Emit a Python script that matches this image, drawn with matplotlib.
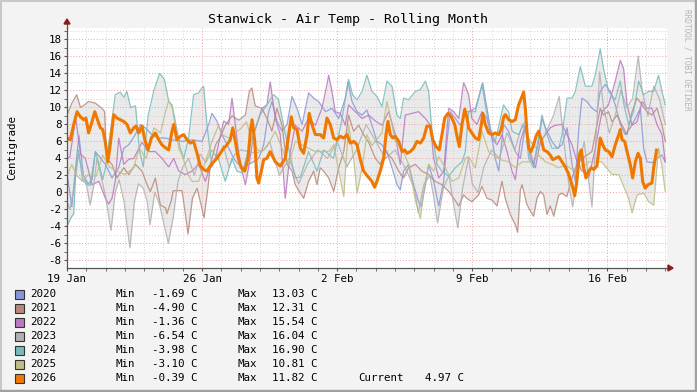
import numpy as np
import matplotlib
matplotlib.use("Agg")
import matplotlib.pyplot as plt
from matplotlib.patches import Rectangle, Polygon
import matplotlib.dates as mdates
import datetime as dt

# ---------------- data (days since 19 Jan 00:00, temperature in C) ----------------
years = ["2020", "2021", "2022", "2023", "2024", "2025", "2026"]
colors = ["#8796DB", "#B8887A", "#BB77C0", "#B0B0B0", "#77BBBB", "#BDBD85", "#F07800"]
mins = ["-1.69", "-4.90", "-1.36", "-6.54", "-3.98", "-3.10", "-0.39"]
maxs = ["13.03", "12.31", "15.54", "16.04", "16.90", "10.81", "11.82"]
current_2026 = "4.97"

t2020 = [0.00, 0.25, 0.45, 0.62, 0.85, 1.10, 1.30, 1.47, 1.99, 2.33, 2.68, 2.94, 3.20, 3.54, 3.80, 4.06, 4.40, 4.75, 5.10,
         5.44, 5.96, 6.48, 7.00, 7.34, 7.51, 7.77, 8.03, 8.38, 8.64, 8.89, 9.15, 9.41, 9.67, 9.93, 10.19,
         10.45, 10.62, 10.88, 11.14, 11.40, 11.66, 11.92, 12.18, 12.52, 12.78, 13.04, 13.39, 13.73, 14.08, 14.42, 14.56, 14.77, 15.03, 15.29,
         15.54, 15.80, 16.06, 16.32, 16.58, 16.84, 17.10, 17.27, 17.44, 17.70, 17.96, 18.22, 18.36, 18.57, 18.74, 19.00, 19.26, 19.52, 19.69, 19.86, 20.12, 20.38, 20.64,
         20.81, 21.16, 21.42, 21.54, 21.76, 22.02, 22.19, 22.37, 22.62, 22.88, 23.23, 23.49, 23.75, 24.01, 24.18, 24.44, 24.61, 24.87, 25.13, 25.39, 25.65, 25.91,
         26.17, 26.34, 26.51, 26.68, 26.94, 27.20, 27.46, 27.63, 27.89, 28.15, 28.41, 28.67, 28.93, 29.19, 29.45, 29.71, 29.88, 30.05, 30.31, 30.57, 30.83, 31.00]
v2020 = [2.3, -1.7, 3.0, 6.7, 2.0, 1.0, 1.5, 4.8, 3.3, 1.7, 2.9, 5.2, 5.6, 6.8, 8.0, 7.6, 6.8, 6.4, 6.4,
         6.2, 6.0, 6.2, 6.0, 8.0, 9.3, 8.4, 6.8, 5.2, 4.0, 3.3, 2.9, 3.3, 3.6, 4.0, 5.6,
         9.5, 10.7, 8.4, 7.2, 8.0, 11.3, 9.9, 8.0, 11.7, 11.1, 10.7, 9.5, 9.9, 8.7, 11.1, 13.0, 10.7, 9.5, 9.1,
         9.7, 7.9, 6.0, 5.6, 4.8, 2.9, 0.9, 0.3, 2.5, 3.3, 0.9, -1.1, -1.69, 0.9, 3.3, 1.3, -1.6, 1.3, 6.0, 9.5, 8.7, 7.9, 9.5,
         9.5, 9.9, 11.9, 12.9, 9.9, 6.4, 4.0, 2.5, 8.0, 7.2, 4.8, 4.0, 7.9, 4.8, 3.3, 6.0, 8.7, 7.2, 6.0, 5.2, 5.6, 7.6,
         3.3, 1.3, 7.2, 11.1, 10.7, 9.9, 9.5, 11.9, 12.7, 11.9, 10.3, 8.0, 6.8, 7.6, 8.7, 9.9, 5.2, 3.6, 3.5, 4.0, 4.4, 3.6]

t2021 = [0.00, 0.25, 0.50, 0.70, 0.90, 1.12, 1.47, 1.81, 1.95, 2.05, 2.33, 2.59, 2.94, 3.20, 3.54, 3.89, 4.15, 4.32, 4.58, 4.84, 5.10, 5.18,
         5.40, 5.50, 5.96, 6.10, 6.27, 6.50, 6.74, 6.95, 7.10, 7.30, 7.43, 7.70, 7.95, 8.20, 8.55, 8.90, 9.24, 9.45, 9.58, 9.75,
         10.10, 10.36, 10.62, 10.88, 11.14, 11.40, 11.66, 11.83, 12.09, 12.26, 12.52, 12.78, 12.95, 13.12, 13.30, 13.56, 13.82, 14.08, 14.34, 14.59, 14.85,
         15.11, 15.37, 15.63, 15.98, 16.23, 16.49, 16.84, 17.19, 17.44, 17.70, 18.05, 18.39, 18.74, 19.08, 19.43, 19.78, 20.04, 20.30, 20.55,
         20.72, 20.98, 21.33, 21.50, 21.76, 22.02, 22.28, 22.54, 22.71, 22.97, 23.23, 23.35, 23.49, 23.58, 23.83, 24.01, 24.18, 24.35, 24.53, 24.70, 24.87,
         25.04, 25.22, 25.48, 25.65, 25.90, 26.17, 26.43, 26.68, 26.94, 27.20, 27.46, 27.63, 27.80, 28.06, 28.24, 28.50, 28.76, 29.02, 29.28, 29.54,
         29.80, 30.05, 30.31, 30.57, 30.83, 31.00]
v2021 = [9.1, 10.5, 11.5, 10.0, 10.3, 10.7, 10.5, 9.9, 9.5, 4.0, 3.3, 1.7, 2.9, 2.1, 3.3, 2.5, 0.9, 0.1, 1.7, -1.5, -1.8, -2.5,
         -1.0, 0.2, 0.2, -2.0, -4.9, -0.7, 0.5, -1.5, -3.0, 0.5, 3.3, 5.6, 6.5, 7.9, 9.0, 8.5, 9.1, 11.9, 12.3, 10.2,
         9.9, 8.7, 7.2, 9.9, 7.9, 3.3, 2.5, 0.9, -0.1, -0.7, 1.3, 2.5, 0.9, 2.9, 2.5, 1.7, 0.1, 2.9, 4.8, 9.1, 7.2,
         7.9, 6.8, 5.9, 4.0, 3.3, 4.8, 4.0, 2.5, 1.7, 2.9, 3.3, 2.5, 2.1, 1.3, 0.9, 0.1, -0.7, -1.6, -0.3,
         -0.7, -1.1, -0.3, 0.7, -0.7, -0.9, -1.6, 1.3, -0.7, -2.6, -3.8, -4.7, 0.3, 0.9, -1.4, -2.2, -2.8, -0.7, 0.1, -0.3, -2.6,
         -1.6, -2.8, -0.3, -0.1, -0.5, 1.7, 3.3, 4.0, 4.4, 4.8, 7.9, 9.9, 9.1, 9.5, 8.3, 9.1, 7.9, 6.8, 9.5, 11.1,
         10.3, 9.5, 9.1, 9.9, 7.9, 6.0]

t2022 = [0.00, 0.15, 0.45, 0.70, 0.95, 1.30, 1.65, 1.99, 2.16, 2.33, 2.50, 2.68, 2.94, 3.20, 3.46, 3.89, 4.23, 4.58, 4.92,
         5.27, 5.53, 5.79, 6.13, 6.48, 6.82, 7.17, 7.34, 7.69, 8.12, 8.38, 8.55, 8.72, 8.89, 9.07, 9.24, 9.41, 9.67, 9.84,
         10.10, 10.36, 10.53, 10.79, 11.05, 11.31, 11.57, 11.83, 12.18, 12.52, 12.87, 13.21, 13.47, 13.56, 13.73, 13.90, 14.16, 14.42, 14.59, 14.94,
         15.29, 15.63, 15.98, 16.32, 16.67, 17.01, 17.27, 17.53, 17.87, 18.22, 18.57, 18.83, 19.00, 19.26, 19.52, 19.78, 20.04, 20.30, 20.55,
         20.64, 20.81, 20.98, 21.24, 21.50, 21.76, 22.02, 22.28, 22.54, 22.80, 23.06, 23.23, 23.49, 23.75, 24.01, 24.27, 24.53, 24.79, 25.04, 25.30,
         25.65, 25.91, 26.17, 26.43, 26.68, 26.86, 27.03, 27.37, 27.72, 28.06, 28.41, 28.67, 28.84, 29.02, 29.28, 29.54, 29.80, 30.05, 30.31, 30.57,
         30.83, 31.00]
v2022 = [3.9, 4.2, 8.8, 4.5, 4.0, 0.9, 1.3, -0.7, -1.36, -0.7, 1.3, 6.4, 3.3, 3.9, 4.0, 5.9, 4.8, 4.8, 4.0,
         3.0, 4.0, 2.5, 2.1, 2.5, 3.3, 1.3, 2.5, 4.0, 8.4, 8.0, 11.1, 8.0, 4.8, 2.5, 0.9, 2.9, 6.8, 8.0,
         9.9, 10.3, 13.0, 8.7, 6.8, -0.7, 4.8, 7.9, 7.2, 8.7, 7.9, 9.9, 12.7, 13.8, 11.9, 9.5, 9.3, 7.9, 10.3, 9.5,
         8.7, 9.1, 8.4, 7.9, 9.5, 6.8, 3.3, 9.1, 9.3, 9.5, 8.7, 7.9, 4.0, 1.7, 2.5, 9.9, 9.5, 8.7, 12.9,
         12.5, 11.5, 8.7, 8.0, 9.5, 8.7, 6.4, 5.6, 6.8, 4.8, 2.5, 1.5, 6.0, 7.9, 4.0, 2.9, 6.0, 6.8, 7.6, 7.9,
         8.0, 6.8, 5.6, 3.6, 2.5, 2.5, 1.7, 5.1, 9.5, 10.3, 13.1, 15.54, 14.6, 10.3, 7.9, 8.3, 10.7, 9.9, 9.9, 8.0,
         6.8, 3.6]

t2023 = [0.00, 0.15, 0.40, 0.60, 0.85, 1.00, 1.20, 1.40, 1.55, 1.75, 2.00, 2.28, 2.50, 2.70, 2.95, 3.26, 3.50, 3.70, 3.95, 4.15, 4.30,
         4.55, 4.80, 5.05, 5.25, 5.50, 5.75, 6.00, 6.30, 6.60, 6.90, 7.20, 7.50, 7.80, 8.10, 8.40, 8.70, 9.00, 9.40, 9.80, 10.20,
         10.50, 11.00, 11.50, 12.00, 12.50, 13.00, 13.50, 14.00, 14.50, 15.00, 15.50, 16.00, 16.50, 17.00, 17.50, 18.00, 18.20, 18.50,
         18.80, 19.00, 19.20, 19.50, 19.80, 20.00, 20.25, 20.50, 20.80, 21.00, 21.30, 21.60, 22.00, 22.40, 22.80, 23.20, 23.60, 24.00,
         24.40, 24.80, 25.20, 25.50, 25.80, 26.00, 26.20, 26.50, 26.80, 27.00, 27.20, 27.40, 27.60, 27.80, 28.10, 28.40, 28.70, 29.00,
         29.30, 29.60, 29.80, 30.10, 30.40, 30.70, 31.00]
v2023 = [-1.0, -2.0, 1.0, 4.5, 2.0, 1.0, -1.5, 1.0, 4.0, 2.0, -0.5, -4.5, 0.0, 1.5, -1.0, -6.54, -1.0, 1.0, 0.5, -1.0, -3.8,
         0.0, -1.5, -4.0, -6.0, -3.0, 1.3, 3.0, 4.0, 2.0, 4.5, 3.5, 5.0, 4.0, 5.5, 3.0, 4.5, 5.0, 4.8, 4.6, 5.0,
         6.0, 2.0, 4.0, 1.0, 3.5, 5.0, 4.0, 6.0, 3.0, 5.0, 8.0, 6.0, 4.0, 5.0, 3.0, 0.5, -2.4, 1.0,
         2.0, -0.5, -3.6, 0.5, 2.0, -1.0, -4.2, 0.5, 4.0, 1.0, 0.0, 3.0, 5.0, 4.0, 7.0, 5.0, 8.0, 6.0,
         5.0, 7.0, 9.0, 11.3, 5.0, 1.0, -1.7, 3.0, 6.0, 2.0, -1.7, 6.0, 14.2, 10.0, 7.0, 9.0, 12.0, 10.0,
         11.0, 16.04, 12.0, 9.0, 12.5, 11.0, 8.0]

t2024 = [0.00, 0.20, 0.35, 0.45, 0.60, 0.80, 1.00, 1.20, 1.47, 1.70, 1.85, 2.00, 2.30, 2.50, 2.75, 2.95, 3.10, 3.30, 3.55, 3.75, 3.95,
         4.20, 4.50, 4.80, 5.05, 5.27, 5.44, 5.61, 5.87, 6.05, 6.30, 6.56, 6.82, 6.99, 7.08, 7.25, 7.51, 7.77, 8.20, 8.55, 8.80, 9.07,
         9.41, 9.67, 10.00, 10.36, 10.70, 10.95, 11.30, 11.83, 12.09, 12.52, 12.95, 13.30, 13.80, 14.20, 14.59, 14.80, 15.03, 15.29,
         15.54, 15.80, 16.06, 16.32, 16.58, 16.84, 17.10, 17.27, 17.44, 17.70, 18.05, 18.31, 18.57, 18.74, 18.91, 19.17, 19.43, 19.78,
         20.12, 20.47, 20.64, 20.81, 21.16, 21.50, 21.85, 22.19, 22.62, 22.88, 23.06, 23.40, 23.75, 23.92, 24.18, 24.61, 24.87, 25.13,
         25.48, 25.65, 25.91, 26.17, 26.34, 26.60, 26.86, 27.20, 27.37, 27.63, 27.80, 28.06, 28.41, 28.67, 28.84, 29.10, 29.36, 29.62,
         29.88, 30.14, 30.40, 30.65, 30.83, 31.00]
v2024 = [-3.98, -3.0, -2.5, 2.5, 5.0, 1.5, 1.0, 0.8, 4.8, 3.0, 1.5, 3.0, 8.0, 11.5, 11.8, 11.2, 11.9, 10.0, 10.2, 5.0, 3.0,
         9.0, 12.0, 14.0, 13.3, 10.7, 10.3, 8.4, 5.2, 4.0, 6.4, 11.5, 11.7, 12.3, 12.5, 8.0, 3.0, 4.5, 1.3, 4.0, 2.5, 2.3,
         5.0, 7.0, 9.1, 10.3, 11.5, 11.0, 7.0, 1.7, 1.8, 4.8, 2.5, 5.0, 4.0, 8.0, 13.3, 11.5, 10.9, 11.9,
         13.8, 11.9, 11.3, 10.1, 13.1, 12.5, 9.1, 8.7, 11.1, 10.9, 11.9, 12.1, 13.1, 11.9, 7.2, 3.3, 2.5, 1.9,
         2.9, 3.6, 4.8, 9.5, 9.5, 12.7, 8.0, 6.0, 10.3, 9.5, 7.2, 6.8, 8.4, 4.0, 2.9, 9.1, 6.8, 5.2,
         5.2, 6.8, 11.1, 11.1, 11.9, 14.8, 12.5, 12.5, 13.8, 16.9, 14.6, 11.9, 10.9, 13.1, 10.5, 8.0, 9.5, 13.1,
         11.5, 11.9, 11.9, 13.8, 11.9, 10.3]

t2025 = [0.00, 0.25, 0.50, 0.80, 1.10, 1.50, 1.85, 2.20, 2.60, 3.00, 3.45, 3.75, 4.10, 4.50, 4.85, 5.10, 5.27, 5.45, 5.79, 5.96,
         6.30, 6.48, 6.82, 7.17, 7.51, 7.86, 8.03, 8.38, 8.70, 9.00, 9.30, 9.60, 9.90, 10.10, 10.40, 10.79, 11.14, 11.49, 11.83,
         12.52, 12.87, 13.56, 13.82, 14.25, 14.34, 14.59, 14.85, 15.03, 15.29, 15.54, 15.80, 16.32, 16.58, 16.84, 17.01, 17.36, 17.70,
         18.05, 18.31, 18.48, 18.74, 19.00, 19.26, 19.60, 19.95, 20.30, 20.64, 20.81, 21.16, 21.50, 21.85, 22.19, 22.54, 22.88, 23.23,
         23.58, 23.92, 24.44, 24.79, 25.13, 25.48, 25.82, 26.20, 26.50, 26.90, 27.03, 27.70, 28.24, 28.59, 29.10, 29.28, 29.54, 29.88,
         30.14, 30.40, 30.65, 30.83, 31.00]
v2025 = [1.9, 3.3, 2.0, 1.3, 2.1, 1.9, 4.4, 3.0, 2.5, 2.1, 2.9, 5.2, 4.0, 7.6, 7.0, 9.5, 10.81, 10.0, 5.2, 4.4,
         2.0, 1.3, 1.3, 3.6, 6.0, 7.9, 6.8, 6.4, 7.0, 7.5, 8.3, 6.0, 5.0, 4.8, 5.5, 7.2, 5.2, 3.3, 6.0,
         5.2, 4.8, 4.8, 5.6, 0.5, -0.5, 8.0, 4.0, -0.1, 2.9, 6.8, 5.5, 7.0, 10.7, 7.9, 6.0, 5.2, 3.3,
         -0.9, -3.1, 0.1, 3.3, 2.5, 4.2, 2.9, 1.3, 1.7, 4.0, 4.2, 2.9, 7.2, 4.8, 4.2, 3.8, 3.6, 2.9,
         3.6, 3.6, 4.4, 3.6, 3.3, 2.9, 3.2, 2.7, 3.0, 3.3, 3.6, 3.6, 2.1, 2.1, -0.7, -2.4, -0.3, -0.1,
         -1.1, -1.5, 5.2, 3.0, 0.1]

t2026 = [0.00, 0.17, 0.35, 0.52, 0.69, 0.87, 0.98, 1.12, 1.30, 1.44, 1.55, 1.73, 1.85, 1.98, 2.12, 2.24, 2.42, 2.59, 2.76, 2.94,
         3.11, 3.28, 3.46, 3.58, 3.72, 3.89, 4.03, 4.20, 4.37, 4.58, 4.75, 4.92, 5.13, 5.27, 5.44, 5.53, 5.70, 5.87, 6.05, 6.22,
         6.39, 6.56, 6.74, 6.91, 7.08, 7.25, 7.42, 7.60, 7.77, 7.94, 8.12, 8.29, 8.46, 8.59, 8.72, 8.86, 9.03, 9.21, 9.38, 9.50,
         9.59, 9.73, 9.84, 9.93, 10.07, 10.19, 10.36, 10.53, 10.79, 11.05, 11.31, 11.49, 11.62, 11.75, 11.92, 12.09, 12.26, 12.44,
         12.55, 12.69, 12.87, 13.12, 13.30, 13.47, 13.64, 13.82, 13.99, 14.16, 14.34, 14.51, 14.68, 14.86, 15.03, 15.20, 15.37,
         15.54, 15.80, 15.94, 16.06, 16.23, 16.41, 16.53, 16.63, 16.75, 16.88, 17.01, 17.19, 17.36, 17.50, 17.62, 17.79, 17.96,
         18.13, 18.31, 18.48, 18.65, 18.82, 18.95, 19.12, 19.29, 19.43, 19.57, 19.74, 19.91, 20.09, 20.21, 20.33, 20.47, 20.61,
         20.73, 20.81, 20.98, 21.16, 21.33, 21.47, 21.55, 21.67, 21.85, 22.02, 22.19, 22.37, 22.50, 22.63, 22.71, 22.89, 23.06,
         23.23, 23.40, 23.58, 23.66, 23.75, 23.83, 23.92, 24.04, 24.18, 24.30, 24.44, 24.58, 24.70, 24.87, 25.04, 25.17, 25.30,
         25.48, 25.65, 25.82, 26.00, 26.17, 26.31, 26.42, 26.54, 26.65, 26.77, 26.89, 27.03, 27.17, 27.29, 27.46, 27.63, 27.76,
         27.89, 28.07, 28.24, 28.41, 28.59, 28.67, 28.76, 28.90, 29.02, 29.19, 29.31, 29.45, 29.59, 29.71, 29.83, 29.96, 30.10,
         30.31, 30.40, 30.48, 30.55]
v2026 = [6.4, 6.2, 8.0, 9.5, 8.9, 8.55, 8.75, 7.0, 8.35, 9.5, 8.75, 7.6, 7.4, 6.0, 3.6, 5.6, 9.15, 8.75, 8.55, 8.35,
         8.0, 7.0, 7.6, 7.8, 7.0, 7.8, 6.2, 5.0, 6.4, 7.0, 6.2, 5.6, 5.2, 5.0, 7.2, 8.0, 6.2, 6.6, 6.8, 6.2,
         5.8, 6.0, 4.6, 3.1, 2.7, 2.5, 3.1, 3.6, 4.0, 4.6, 5.2, 5.6, 6.2, 7.6, 6.0, 4.2, 2.9, 2.5, 4.0, 7.2,
         8.55, 6.0, 1.7, 1.1, 2.5, 3.85, 4.0, 4.8, 3.6, 3.1, 4.0, 6.8, 8.9, 7.6, 7.4, 5.2, 4.6, 6.8,
         9.3, 8.0, 6.8, 6.8, 6.4, 8.75, 8.0, 6.4, 6.2, 6.6, 6.4, 6.8, 5.8, 6.0, 5.6, 3.85, 2.5,
         2.0, 1.3, 0.6, 1.3, 2.5, 4.0, 6.8, 8.35, 6.8, 6.4, 6.6, 6.0, 4.8, 5.0, 4.6, 4.8, 5.2,
         6.0, 5.8, 6.4, 7.8, 7.8, 6.2, 5.4, 5.0, 6.8, 8.75, 9.3, 8.9, 8.0, 6.6, 5.4, 8.0, 9.8,
         8.75, 7.6, 7.0, 6.4, 6.2, 8.0, 9.3, 8.0, 7.0, 6.8, 7.0, 6.8, 7.4, 8.9, 9.15, 8.55, 8.35,
         8.55, 10.3, 11.3, 11.82, 9.9, 7.2, 5.2, 4.8, 5.6, 6.6, 7.2, 6.2, 5.0, 4.8, 4.4, 3.85, 4.0,
         4.2, 3.6, 3.0, 2.1, 0.9, -0.39, 1.3, 4.4, 5.0, 2.9, 1.7, 2.5, 2.9, 2.7, 3.1, 6.4, 5.6,
         5.0, 4.8, 4.2, 5.6, 6.8, 7.4, 6.2, 6.0, 4.8, 3.25, 1.7, 3.6, 4.6, 4.0, 1.3, 0.5, 0.9,
         1.1, 2.9, 4.0, 4.97]

series_t = [t2020, t2021, t2022, t2023, t2024, t2025, t2026]
series_v = [v2020, v2021, v2022, v2023, v2024, v2025, v2026]

# ---------------- figure ----------------
W, H = 697, 392
fig = plt.figure(figsize=(W / 100, H / 100), dpi=100)
fig.patch.set_facecolor("#F3F3F3")
mono = "DejaVu Sans Mono"

x0, x1, y0, y1 = 67, 667, 28, 268
ax = fig.add_axes([x0 / W, 1 - y1 / H, (x1 - x0) / W, (y1 - y0) / H])
ax.set_facecolor("#FFFFFF")

start = dt.datetime(2026, 1, 19)
def to_dates(days):
    return [start + dt.timedelta(days=float(d)) for d in days]

tmax_days = 31.09
ax.set_xlim(start, start + dt.timedelta(days=tmax_days))
ax.set_ylim(-8.9, 19.35)

# min/max envelope over all years
grid_days = np.linspace(0, 31.0, 1500)
stack = []
for t, v in zip(series_t, series_v):
    tt = np.array(t); vv = np.array(v)
    yi = np.interp(grid_days, tt, vv, left=np.nan, right=np.nan)
    stack.append(yi)
stack = np.array(stack)
lo = np.nanmin(stack, axis=0)
hi = np.nanmax(stack, axis=0)
ax.fill_between(to_dates(grid_days), lo, hi, color="#EAEAEA", lw=0, zorder=1)

# grid (drawn over the fill, like rrdtool)
for yv in range(-8, 20):
    major = (yv % 2 == 0)
    ax.axhline(yv, color="#F0A0A0" if major else "#D4D4D4", lw=0.7,
               ls=(0, (1, 2)), zorder=1.5)
for dd in range(0, 32):
    major = (dd % 7 == 0)
    ax.axvline(start + dt.timedelta(days=dd), color="#F0A0A0" if major else "#D4D4D4",
               lw=0.7, ls=(0, (1, 2)), zorder=1.5)

# series lines
for i, (t, v) in enumerate(zip(series_t, series_v)):
    if years[i] == "2026":
        ax.plot(to_dates(t), v, color=colors[i], lw=2.2, zorder=4, solid_joinstyle="round")
    else:
        ax.plot(to_dates(t), v, color=colors[i], lw=0.9, alpha=0.85, zorder=3)

# axes styling
for s in ["top", "right"]:
    ax.spines[s].set_visible(False)
for s in ["left", "bottom"]:
    ax.spines[s].set_color("#555555")
    ax.spines[s].set_linewidth(0.9)
    ax.spines[s].set_zorder(5)

ax.set_yticks(range(-8, 19, 2))
ax.set_yticklabels([str(v) for v in range(-8, 19, 2)], fontfamily=mono, fontsize=7.8)
ax.set_yticks(range(-8, 20), minor=True)
ax.tick_params(axis="y", which="both", direction="out", length=2, color="#555555", pad=2)

week_ticks = [start + dt.timedelta(days=d) for d in range(0, 29, 7)]
ax.set_xticks(week_ticks)
ax.set_xticklabels([f"{d.day} {d:%b}" for d in week_ticks], fontfamily=mono, fontsize=7.8)
ax.set_xticks([start + dt.timedelta(days=d) for d in range(0, 32)], minor=True)
ax.tick_params(axis="x", which="both", direction="out", length=2, color="#555555", pad=2)

# axis arrows
arrow_col = "#8B1A1A"
fig.patches.append(Polygon([[x0 - 3, H - 24], [x0 + 3, H - 24], [x0, H - 19]], closed=True,
                           transform=None, color=arrow_col))
fig.patches.append(Polygon([[x1 + 1, H - y1 - 3], [x1 + 1, H - y1 + 3], [x1 + 6, H - y1]], closed=True,
                           transform=None, color=arrow_col))
ax.plot([0, 0], [1, 1.02], transform=ax.transAxes, color="#555555", lw=0.9, clip_on=False)
ax.plot([1, 1.008], [0, 0], transform=ax.transAxes, color="#555555", lw=0.9, clip_on=False)

# title and labels
fig.text(348 / W, 1 - 19 / H, "Stanwick - Air Temp - Rolling Month", ha="center", va="center",
         fontfamily=mono, fontsize=9.6, color="#000000")
fig.text(12 / W, 1 - 148 / H, "Centigrade", rotation=90, ha="center", va="center",
         fontfamily=mono, fontsize=7.8)
fig.text(687 / W, 1 - 60 / H, "RRDTOOL / TOBI OETIKER", rotation=270, ha="center", va="center",
         fontfamily=mono, fontsize=5.6, color="#B5B5B5")

# legend
for i, yr in enumerate(years):
    yc = 294 + 14 * i
    fig.patches.append(Rectangle((15, H - yc - 4.5), 9, 9, transform=None,
                                 facecolor=colors[i], edgecolor="#333333", lw=0.8))
    fig.text(30 / W, 1 - yc / H, yr, ha="left", va="center", fontfamily=mono, fontsize=7.8)
    fig.text(116 / W, 1 - yc / H, "Min", ha="left", va="center", fontfamily=mono, fontsize=7.8)
    fig.text(185 / W, 1 - yc / H, f"{mins[i]} C", ha="right", va="center", fontfamily=mono,
             fontsize=7.8) if False else fig.text(151.5 / W + (0 if mins[i].startswith("-") else 6.65 / W),
                                                  1 - yc / H, f"{mins[i]} C", ha="left", va="center",
                                                  fontfamily=mono, fontsize=7.8)
    fig.text(237 / W, 1 - yc / H, "Max", ha="left", va="center", fontfamily=mono, fontsize=7.8)
    fig.text(272.5 / W, 1 - yc / H, f"{maxs[i]} C", ha="left", va="center", fontfamily=mono, fontsize=7.8)
    if yr == "2026":
        fig.text(358 / W, 1 - yc / H, "Current", ha="left", va="center", fontfamily=mono, fontsize=7.8)
        fig.text(425 / W, 1 - yc / H, f"{current_2026} C", ha="left", va="center", fontfamily=mono, fontsize=7.8)

# frame border
fig.patches.append(Rectangle((0.5, 0.5), W - 1, H - 1, transform=None, fill=False,
                             edgecolor="#C8C8C8", lw=1.5))
fig.patches.append(Rectangle((0, 0), W, 2, transform=None, color="#A0A0A0"))
fig.patches.append(Rectangle((W - 2, 0), 2, H, transform=None, color="#A0A0A0"))

fig.savefig("out.png", dpi=100, facecolor=fig.get_facecolor())
